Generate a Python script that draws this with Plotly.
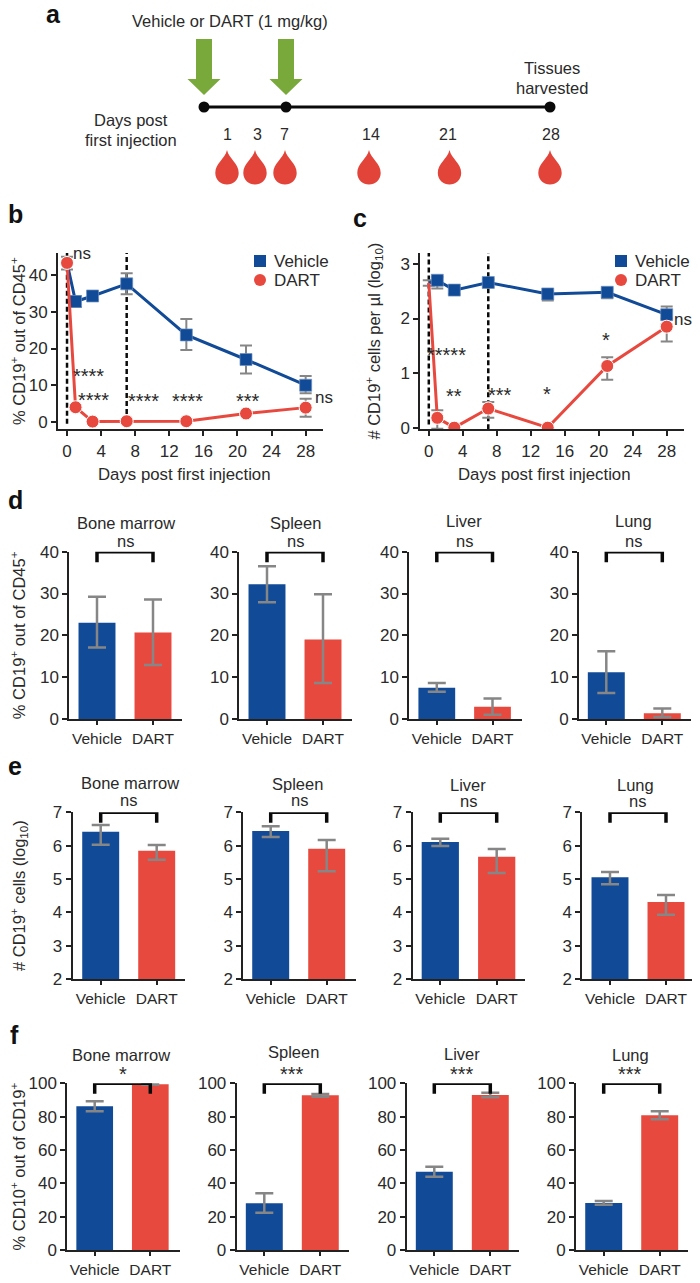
import plotly.graph_objects as go

BLUE = "#114A96"
RED = "#E8493F"
GRAY = "#868686"
INK = "#2A2A2A"
BLACK = "#0A0A0A"
FONT = "Liberation Sans"

# ---------- panels b, c ----------
days = [0, 1, 3, 7, 14, 21, 28]
b_vehicle = [43.3, 32.8, 34.3, 37.6, 23.7, 17.0, 10.0]
b_vehicle_lo = [41.3, 31.3, 33.3, 34.8, 19.6, 13.2, 7.8]
b_vehicle_hi = [45.2, 34.3, 35.3, 40.5, 28.0, 20.8, 12.5]
b_dart = [43.3, 4.0, 0.1, 0.2, 0.2, 2.3, 3.9]
b_dart_lo = [41.5, 3.4, 0.0, 0.0, 0.0, 1.6, 1.4]
b_dart_hi = [45.0, 4.6, 0.2, 0.4, 0.4, 3.0, 6.3]

c_vehicle = [2.65, 2.70, 2.52, 2.66, 2.45, 2.48, 2.07]
c_vehicle_lo = [2.60, 2.55, 2.45, 2.58, 2.33, 2.37, 1.90]
c_vehicle_hi = [2.70, 2.76, 2.58, 2.72, 2.50, 2.55, 2.22]
c_dart = [2.65, 0.18, 0.0, 0.35, 0.0, 1.13, 1.85]
c_dart_lo = [2.60, -0.02, 0.0, 0.18, 0.0, 0.88, 1.58]
c_dart_hi = [2.70, 0.32, 0.0, 0.47, 0.0, 1.29, 2.00]

# ---------- panels d, e, f ----------
tissues = ["Bone marrow", "Spleen", "Liver", "Lung"]
groups = ["Vehicle", "DART"]

d_vehicle = [23.0, 32.2, 7.5, 11.2]
d_vehicle_lo = [17.1, 27.9, 6.5, 6.2]
d_vehicle_hi = [29.2, 36.5, 8.6, 16.2]
d_dart = [20.7, 19.0, 2.9, 1.4]
d_dart_lo = [12.9, 8.6, 1.0, 0.5]
d_dart_hi = [28.6, 29.8, 4.9, 2.5]
d_sig = ["ns", "ns", "ns", "ns"]

e_vehicle = [6.42, 6.44, 6.11, 5.05]
e_vehicle_lo = [6.03, 6.26, 5.99, 4.84]
e_vehicle_hi = [6.62, 6.58, 6.21, 5.21]
e_dart = [5.85, 5.91, 5.67, 4.31]
e_dart_lo = [5.58, 5.23, 5.18, 3.93]
e_dart_hi = [6.02, 6.17, 5.90, 4.52]
e_sig = ["ns", "ns", "ns", "ns"]

f_vehicle = [86.2, 28.0, 47.0, 28.2]
f_vehicle_lo = [83.2, 22.3, 44.0, 27.2]
f_vehicle_hi = [89.2, 34.0, 50.0, 29.4]
f_dart = [99.5, 92.8, 93.0, 80.8]
f_dart_lo = [99.2, 92.0, 91.7, 78.5]
f_dart_hi = [99.8, 93.6, 94.3, 83.2]
f_sig = ["*", "***", "***", "***"]

# ---------- schematic ----------
sample_days = ["1", "3", "7", "14", "21", "28"]

W, H = 700, 1283
OFF = 8  # the page's own body margin
FW, FH = W - OFF, H - OFF
fig = go.Figure()
layout = {}
shapes = []
annots = []


def text(x, y, s, size=16.5, color=INK, bold=False, yshift=0, xanchor="center"):
    annots.append(dict(x=x, y=y, xref="x", yref="y", text=f"<b>{s}</b>" if bold else s,
                       showarrow=False, xanchor=xanchor, yanchor="middle", yshift=yshift,
                       font=dict(family=FONT, size=size, color=color)))


def stars(x, y, s):
    text(x, y, s, size=20, color=INK, yshift=-1.5)


def axis_pair(n, left, right, top, bottom, xr, yr, ytitle, xcfg, ycfg, standoff, ysize=17):
    common = dict(showline=True, linecolor="#222222", linewidth=2, ticks="outside", tickwidth=2,
                  tickcolor="#222222", showgrid=False, zeroline=False, fixedrange=True,
                  tickfont=dict(family=FONT, size=ysize, color=INK))
    layout[f"xaxis{n}"] = dict(common, domain=[(left - OFF) / FW, (right - OFF) / FW], range=xr,
                               anchor=f"y{n}", **xcfg)
    layout[f"yaxis{n}"] = dict(common, domain=[1 - (bottom - OFF) / FH, 1 - (top - OFF) / FH], range=yr,
                               anchor=f"x{n}",
                               title=dict(text=ytitle, standoff=standoff,
                                          font=dict(family=FONT, size=16.5, color=INK)) if ytitle else None,
                               **ycfg)


# overlay used for schematic and free text, one unit = one page pixel
layout["xaxis"] = dict(domain=[0, 1], range=[OFF, W], visible=False, fixedrange=True)
layout["yaxis"] = dict(domain=[0, 1], range=[H, OFF], visible=False, fixedrange=True)

# ---------- panel a ----------
GREEN = "#79A83B"
for cx in (204, 286):
    shapes.append(dict(type="path", xref="x", yref="y", fillcolor=GREEN, line=dict(width=0),
                       path=f"M{cx-8},39 L{cx+8},39 L{cx+8},79 L{cx+16.5},79 L{cx},95 L{cx-16.5},79 L{cx-8},79 Z"))
for cx in (227, 255, 285, 369, 449.5, 550):
    shapes.append(dict(type="path", xref="x", yref="y", fillcolor="#E2443A", line=dict(width=0),
                       path=(f"M{cx},150 C{cx+2},159 {cx+11.7},163 {cx+11.7},173 "
                             f"C{cx+11.7},180 {cx+6},184.5 {cx},184.5 "
                             f"C{cx-6},184.5 {cx-11.7},180 {cx-11.7},173 "
                             f"C{cx-11.7},163 {cx-2},159 {cx},150 Z")))
fig.add_trace(go.Scatter(x=[204, 286, 550], y=[107, 107, 107], xaxis="x", yaxis="y", mode="lines+markers",
                         line=dict(color=BLACK, width=3), marker=dict(color=BLACK, size=11),
                         showlegend=False, hoverinfo="skip"))
text(229.5, 21, "Vehicle or DART (1 mg/kg)")
text(552, 68, "Tissues")
text(552, 88, "harvested")
text(131, 120, "Days post")
text(131, 140, "first injection")
for lab, x in zip(sample_days, (227, 257, 284, 371, 448, 551)):
    text(x, 134, lab, size=16)
for lab, x, y in (("a", 53, 14), ("b", 15.5, 214), ("c", 359.5, 218), ("d", 15.5, 500), ("e", 15, 766), ("f", 14, 1035)):
    text(x, y, lab, size=25, color="#111111", bold=True)


# ---------- line panels ----------
def err(vals, lo, hi, cap=6, thick=2):
    return dict(type="data", symmetric=False,
                array=[h - v for h, v in zip(hi, vals)],
                arrayminus=[v - l for l, v in zip(lo, vals)],
                color=GRAY, thickness=thick, width=cap)


def line_panel(n, left, right, top, bottom, xr, yr, yticks, ytitle, standoff, veh, vlo, vhi, dart, dlo, dhi, lx,
               dash_lo, first_size, title_x):
    xa, ya = f"x{n}", f"y{n}"
    axis_pair(n, left, right, top, bottom, xr, yr, ytitle,
              dict(tickmode="array", tickvals=list(range(0, 29, 4)), ticklen=5),
              dict(tickmode="array", tickvals=yticks, ticklen=5), standoff)
    text(title_x, 474, "Days post first injection", size=16.8)
    for d, lo in zip((0, 7), dash_lo):
        fig.add_trace(go.Scatter(x=[d, d], y=[lo, yr[1]], xaxis=xa, yaxis=ya, mode="lines", showlegend=False,
                                 line=dict(color=BLACK, width=2.5, dash="5px,3px"), hoverinfo="skip"))
    fig.add_trace(go.Scatter(x=days[1:], y=veh[1:], xaxis=xa, yaxis=ya, mode="none", showlegend=False,
                             error_y=err(veh[1:], vlo[1:], vhi[1:]), hoverinfo="skip"))
    fig.add_trace(go.Scatter(x=days, y=dart, xaxis=xa, yaxis=ya, mode="none", showlegend=False,
                             error_y=err(dart, dlo, dhi), hoverinfo="skip"))
    fig.add_trace(go.Scatter(x=days, y=veh, xaxis=xa, yaxis=ya, mode="lines", name="Vehicle", showlegend=False,
                             line=dict(color=BLUE, width=3)))
    fig.add_trace(go.Scatter(x=days[1:], y=veh[1:], xaxis=xa, yaxis=ya, mode="markers", showlegend=False,
                             marker=dict(color=BLUE, size=12, symbol="square",
                                         line=dict(color="#6F8FBF", width=0.7)), name="Vehicle"))
    fig.add_trace(go.Scatter(x=days, y=dart, xaxis=xa, yaxis=ya, mode="lines+markers", name="DART", showlegend=False,
                             line=dict(color=RED, width=3),
                             marker=dict(color=RED, opacity=1, size=[first_size] + [13] * (len(days) - 1))))
    # key
    fig.add_trace(go.Scatter(x=[lx], y=[261], xaxis="x", yaxis="y", mode="markers", name="Vehicle", showlegend=False,
                             marker=dict(color=BLUE, size=12, symbol="square"), hoverinfo="skip"))
    fig.add_trace(go.Scatter(x=[lx], y=[280], xaxis="x", yaxis="y", mode="markers", name="DART", showlegend=False,
                             marker=dict(color=RED, size=12), hoverinfo="skip"))
    text(lx + 12, 261, "Vehicle", size=17, xanchor="left")
    text(lx + 12, 280, "DART", size=17, xanchor="left")


line_panel(2, 58, 322.7, 253, 429.3, [-1.06, 30], [-2, 46], [0, 10, 20, 30, 40],
           "% CD19<sup>+</sup> out of CD45<sup>+</sup>", 12,
           b_vehicle, b_vehicle_lo, b_vehicle_hi, b_dart, b_dart_lo, b_dart_hi, 260,
           (-0.5, 0), 13, 184)
line_panel(3, 420.3, 684.3, 253, 429.3, [-1, 30.07], [-0.03, 3.2], [0, 1, 2, 3],
           "# CD19<sup>+</sup> cells per µl (log<sub>10</sub>)", 16,
           c_vehicle, c_vehicle_lo, c_vehicle_hi, c_dart, c_dart_lo, c_dart_hi, 621,
           (0.06, -0.03), 0, 544)

text(82, 253, "ns", size=17)
text(324, 397, "ns", size=17)
for x, y, s in ((88, 374, "****"), (93, 398, "****"), (143, 399, "****"), (187, 399, "****"), (248, 399, "***")):
    stars(x, y, s)
text(683, 319, "ns", size=17)
for x, y, s in ((446, 353, "*****"), (454, 394, "**"), (500, 393, "***"), (547, 392, "*"), (606, 338, "*")):
    stars(x, y, s)


# ---------- bar panels ----------
def bar_panel(n, left, right, top, bottom, cat0, cat1, yr, yticks, ytitle, standoff, i, veh, vlo, vhi, dart, dlo, dhi, sy0, sy1):
    xa, ya = f"x{n}", f"y{n}"
    step = cat1 - cat0
    xr = [(left - cat0) / step, (right - cat0) / step]
    axis_pair(n, left, right, top, bottom, xr, yr, ytitle,
              dict(type="category", categoryorder="array", categoryarray=groups, ticklen=4,
                   tickfont=dict(family=FONT, size=15.5, color=INK)),
              dict(tickmode="array", tickvals=yticks, ticklen=5), standoff)
    for g, v, lo, hi, col in (("Vehicle", veh[i], vlo[i], vhi[i], BLUE), ("DART", dart[i], dlo[i], dhi[i], RED)):
        fig.add_trace(go.Bar(x=[g], y=[v], xaxis=xa, yaxis=ya, name=g, width=0.66, showlegend=False,
                             marker=dict(color=col, line=dict(width=0)),
                             error_y=err([v], [lo], [hi], cap=9, thick=2.5)))
    brk = yr[1], yr[1] - (yr[1] - yr[0]) * 0.0625
    fig.add_trace(go.Scatter(x=groups[:1] * 2 + groups[1:] * 2, y=[brk[1], brk[0], brk[0], brk[1]],
                             xaxis=xa, yaxis=ya, mode="lines", showlegend=False, cliponaxis=False,
                             line=dict(color=BLACK, width=3.5), hoverinfo="skip"))
    text((cat0 + cat1) / 2 + sy1[0], sy0[0], tissues[i])
    if sig_now[i] == "ns":
        text((cat0 + cat1) / 2 + sy1[1], sy0[1], "ns", size=16.5)
    else:
        stars((cat0 + cat1) / 2 + sy1[1], sy0[1], sig_now[i])


ytitle_d = "% CD19<sup>+</sup> out of CD45<sup>+</sup>"
ytitle_e = "# CD19<sup>+</sup> cells (log<sub>10</sub>)"
ytitle_f = "% CD10<sup>+</sup> out of CD19<sup>+</sup>"

sig_now = d_sig
d_geo = [(69.3, 97, 153), (239.3, 267, 323), (409.3, 436.8, 492.5), (579, 606.3, 662.3)]
d_lab = [((522.7, 541), (1, 0)), ((522.7, 541), (0, 0)), ((521, 541), (-0.6, 0)), ((521, 541), (-1, -1))]
for i, (l, c0, c1) in enumerate(d_geo):
    bar_panel(4 + i, l, l + 112.4, 551.7, 719, c0, c1, [0, 40], [0, 10, 20, 30, 40],
              ytitle_d if i == 0 else None, 13, i, d_vehicle, d_vehicle_lo, d_vehicle_hi, d_dart, d_dart_lo, d_dart_hi,
              d_lab[i][0], d_lab[i][1])

sig_now = e_sig
e_geo = [(72.7, 100.7, 156.7), (243.3, 270.7, 326.7), (412.7, 440.3, 496.7), (582.3, 610, 666)]
e_lab = [((783, 800), (1, 0)), ((784, 800), (-1, 1)), ((785, 801), (-0.5, 0)), ((785, 801), (-3, -1))]
for i, (l, c0, c1) in enumerate(e_geo):
    bar_panel(8 + i, l, l + 112.4, 812.3, 979, c0, c1, [2, 7], [2, 3, 4, 5, 6, 7],
              ytitle_e if i == 0 else None, 27, i, e_vehicle, e_vehicle_lo, e_vehicle_hi, e_dart, e_dart_lo, e_dart_hi,
              e_lab[i][0], e_lab[i][1])

sig_now = f_sig
f_geo = [(67.3, 94.7, 150.3), (236.7, 264.3, 320.3), (406.7, 434.3, 490.3), (576, 603.7, 659.7)]
f_lab = [((1055, 1072), (-1.8, 0.2)), ((1052, 1072), (1, 0)), ((1054, 1072), (-0.3, 0)), ((1055, 1072), (-1.7, -1.7))]
for i, (l, c0, c1) in enumerate(f_geo):
    bar_panel(12 + i, l, l + 112.4, 1083.3, 1250, c0, c1, [0, 100], [0, 20, 40, 60, 80, 100],
              ytitle_f if i == 0 else None, 9, i, f_vehicle, f_vehicle_lo, f_vehicle_hi, f_dart, f_dart_lo, f_dart_hi,
              f_lab[i][0], f_lab[i][1])

fig.update_layout(width=FW, height=FH, autosize=False, margin=dict(l=0, r=0, t=0, b=0, autoexpand=False),
                  paper_bgcolor="white", plot_bgcolor="rgba(0,0,0,0)", barmode="overlay", showlegend=False,
                  shapes=shapes, annotations=annots, **layout)
fig.write_html("out.html")
